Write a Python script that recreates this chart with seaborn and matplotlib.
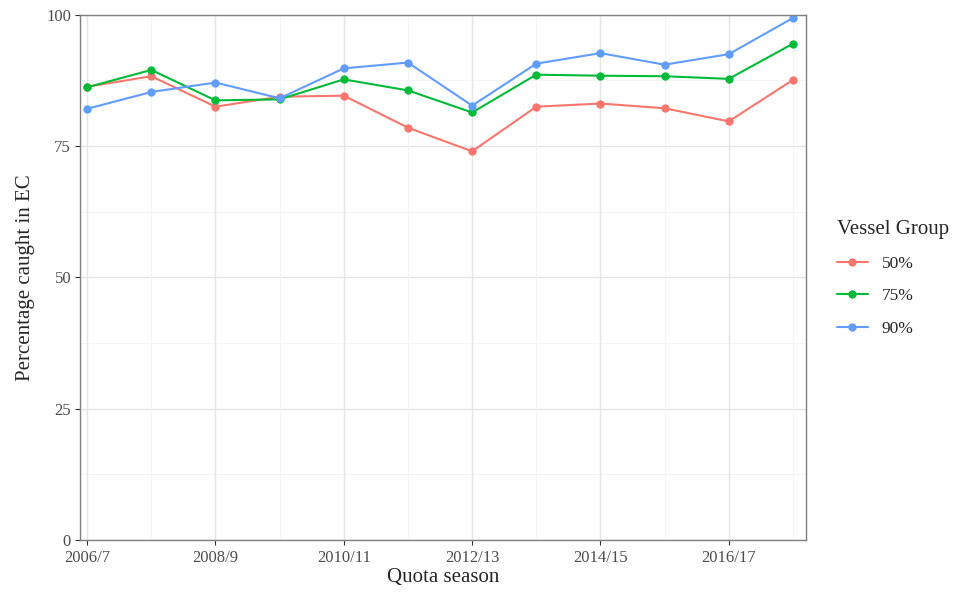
import pandas as pd
import numpy as np
import matplotlib
matplotlib.use('Agg')
import matplotlib.pyplot as plt
import seaborn as sns

# data
seasons = ['2006/7', '2007/8', '2008/9', '2009/10', '2010/11', '2011/12',
           '2012/13', '2013/14', '2014/15', '2015/16', '2016/17', '2017/18']
groups = ['50%', '75%', '90%']
pct_50 = [86.3, 88.3, 82.5, 84.4, 84.6, 78.5, 74.0, 82.5, 83.1, 82.2, 79.7, 87.6]
pct_75 = [86.2, 89.5, 83.7, 83.9, 87.7, 85.6, 81.4, 88.6, 88.4, 88.3, 87.8, 94.5]
pct_90 = [82.1, 85.3, 87.1, 84.1, 89.8, 90.9, 82.7, 90.7, 92.7, 90.5, 92.5, 99.4]
tick_labels = ['2006/7', '2008/9', '2010/11', '2012/13', '2014/15', '2016/17']
colors = ['#F8766D', '#00BA38', '#619CFF']

df = pd.DataFrame({
    'season': seasons * 3,
    'idx': list(range(len(seasons))) * 3,
    'group': [g for g in groups for _ in seasons],
    'pct': pct_50 + pct_75 + pct_90,
})

sns.set_theme(style='white')
plt.rcParams['font.family'] = ['Liberation Serif', 'DejaVu Serif']

fig = plt.figure(figsize=(9.65, 5.92), dpi=100)
ax = fig.add_axes([0.083, 0.088, 0.752, 0.887])

# grid like theme_bw
for y in [12.5, 37.5, 62.5, 87.5]:
    ax.axhline(y, color='#F2F2F2', lw=0.6, zorder=0)
for y in [0, 25, 50, 75, 100]:
    ax.axhline(y, color='#E5E5E5', lw=1.0, zorder=0)
for x in [1, 3, 5, 7, 9, 11]:
    ax.axvline(x, color='#F2F2F2', lw=0.6, zorder=0)
for x in [0, 2, 4, 6, 8, 10]:
    ax.axvline(x, color='#E5E5E5', lw=1.0, zorder=0)

sns.lineplot(data=df, x='idx', y='pct', hue='group', palette=colors,
             marker='o', markersize=6, markeredgewidth=0, linewidth=1.5, ax=ax)

ax.set_xlim(-0.11, 11.2)
ax.set_ylim(0, 100)
ax.set_xticks(range(0, 12, 2))
ax.set_xticklabels(tick_labels)
ax.set_yticks([0, 25, 50, 75, 100])
ax.tick_params(axis='both', length=3.5, width=0.8, color='#333333',
               labelcolor='#4D4D4D', labelsize=12, direction='out',
               bottom=True, left=True)
ax.tick_params(axis='x', pad=4)
ax.tick_params(axis='y', pad=3)
for s in ax.spines.values():
    s.set_color('#7F7F7F')
    s.set_linewidth(1.0)

ax.set_xlabel('Quota season', fontsize=15, labelpad=1)
ax.set_ylabel('Percentage caught in EC', fontsize=15, labelpad=8)

leg = ax.legend(title='Vessel Group', loc='upper left',
                bbox_to_anchor=(0.86, 0.64), bbox_transform=fig.transFigure,
                frameon=False, fontsize=12.5, title_fontsize=15,
                handlelength=1.8, labelspacing=0.95, borderaxespad=0)
leg._legend_box.align = 'left'

fig.savefig('out.png', dpi=100)
